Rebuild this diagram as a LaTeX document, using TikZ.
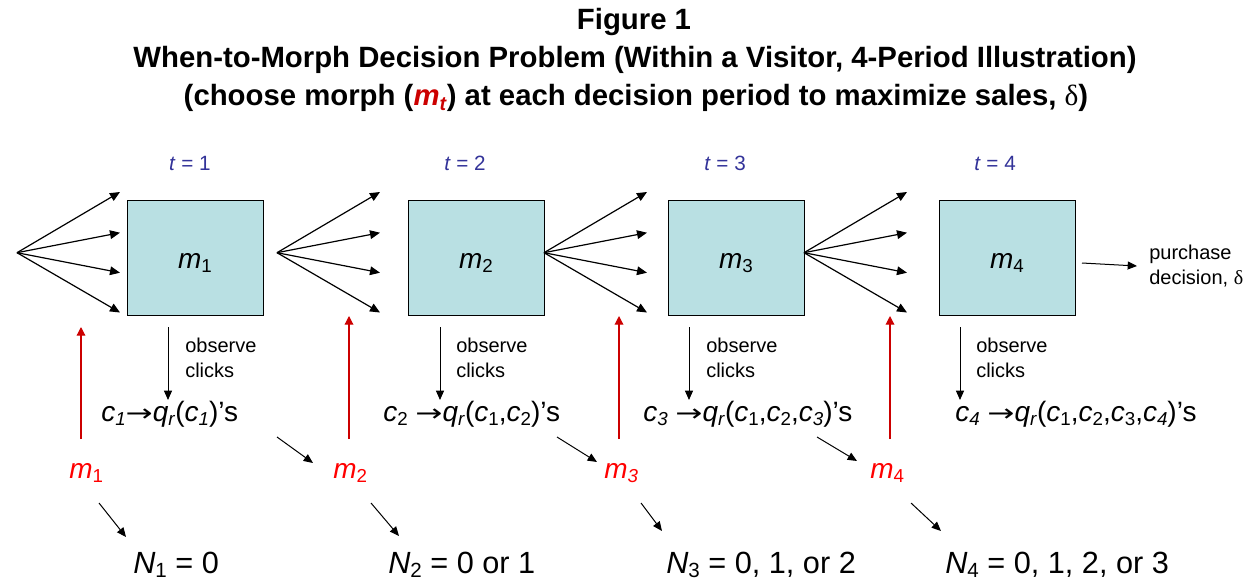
\documentclass[tikz,border=0pt]{standalone}
\usepackage{fontspec}
\setmainfont{Liberation Sans}
\newfontfamily\symf{Liberation Serif}
\newfontfamily\arrf{DejaVu Sans}
\usetikzlibrary{arrows.meta}
\definecolor{boxfill}{RGB}{185,224,227}
\definecolor{tblue}{RGB}{51,51,153}
\definecolor{mred}{RGB}{255,0,0}
\definecolor{ared}{RGB}{204,0,0}
\newcommand\lo[1]{\raisebox{-0.3ex}{\scalebox{0.67}{#1}}}
\newcommand\ra{\scalebox{1.35}[1]{\arrf\fontsize{18}{20}\selectfont →}}
\begin{document}
\begin{tikzpicture}[x=0.75pt,y=-0.75pt,
  mbox/.style={draw=black, line width=0.75pt, fill=boxfill, minimum width=102pt, minimum height=86.25pt, inner sep=0pt},
  boxlab/.style={font=\fontsize{21}{25}\selectfont, inner sep=0pt},
  titlefont/.style={font=\fontsize{22}{26}\selectfont\bfseries, inner sep=0pt},
  tlab/.style={text=tblue, font=\fontsize{15.5}{18}\selectfont, inner sep=0pt},
  small/.style={font=\fontsize{15}{19}\selectfont, align=left, inner sep=0pt},
  big/.style={font=\fontsize{21}{25}\selectfont, inner sep=0pt},
  bigN/.style={font=\fontsize{23}{27}\selectfont, inner sep=0pt},
  redm/.style={text=mred, font=\fontsize{21}{25}\selectfont, inner sep=0pt},
  fanarr/.style={-{Triangle[length=7.5pt,width=6.5pt]}, line width=0.9pt},
  arr/.style={-{Triangle[length=7pt,width=6pt]}, line width=0.75pt},
  redarr/.style={-{Triangle[length=6.5pt,width=6.5pt]}, line width=0.9pt, draw=ared}
]
\useasboundingbox (0,0) rectangle (1260,582);

% title
\node[titlefont] (title1) at (634,22) {Figure 1};
\node[titlefont] (title2) at (635,60) {When-to-Morph Decision Problem (Within a Visitor, 4-Period Illustration)};
\node[titlefont] (title3) at (636,98) {(choose morph (\textcolor{ared}{\textit{m}\lo{\textit{t}}}) at each decision period to maximize sales, {\symf\mdseries δ})};

% boxes
\foreach \i/\x in {1/195,2/476,3/736,4/1007}{
  \node[mbox] (b\i) at (\x,257.5) {};
  \node[boxlab] (bl\i) at (\x,263) {\textit{m}\lo{\i}};
}

% t labels
\node[tlab] (t1) at (190,163) {\textit{t} = 1};
\node[tlab] (t2) at (465,163) {\textit{t} = 2};
\node[tlab] (t3) at (725,163) {\textit{t} = 3};
\node[tlab] (t4) at (995,163) {\textit{t} = 4};

% fans
\coordinate (f0) at (17,252.7);
\coordinate (f1) at (277,252.7);
\coordinate (f2) at (544,252.7);
\coordinate (f3) at (804,252.7);
\foreach \f/\x in {f0/120,f1/380,f2/647,f3/907}{
  \coordinate (\f a) at (\x,192);
  \coordinate (\f b) at (\x,232.7);
  \coordinate (\f c) at (\x,272.7);
  \coordinate (\f d) at (\x,312.5);
  \draw[fanarr] (\f) -- (\f a);
  \draw[fanarr] (\f) -- (\f b);
  \draw[fanarr] (\f) -- (\f c);
  \draw[fanarr] (\f) -- (\f d);
}

% purchase decision
\node[small, anchor=west] (pd) at (1149,266) {purchase\\decision, {\symf δ}};
\coordinate (pds) at (1082,263);
\coordinate (pde) at (1137,266);
\draw[arr] (pds) -- (pde);

% observe clicks
\foreach \i/\x/\tx in {1/168/185,2/440/456,3/689/706,4/960/976}{
  \node[small, anchor=west] (obs\i) at (\tx,358) {observe\\clicks};
  \coordinate (os\i) at (\x,327);
  \coordinate (oe\i) at (\x,400);
  \draw[arr] (os\i) -- (oe\i);
}

% c lines
\node[big, anchor=base west] (c1) at (101,421) {\textit{c}\lo{\textit{1}}\ra\textit{q}\lo{\textit{r}}(\textit{c}\lo{\textit{1}})’s};
\node[big, anchor=base west] (c2) at (383,421) {\textit{c}\lo{2} \ra\textit{q}\lo{\textit{r}}(\textit{c}\lo{1},\textit{c}\lo{2})’s};
\node[big, anchor=base west] (c3) at (643,421) {\textit{c}\lo{\textit{3}} \ra\textit{q}\lo{\textit{r}}(\textit{c}\lo{1},\textit{c}\lo{2},\textit{c}\lo{\textit{3}})’s};
\node[big, anchor=base west] (c4) at (955,421) {\textit{c}\lo{\textit{4}} \ra\textit{q}\lo{\textit{r}}(\textit{c}\lo{1},\textit{c}\lo{2},\textit{c}\lo{3},\textit{c}\lo{\textit{4}})’s};

% red m labels
\node[redm, anchor=base west] (r1) at (69,478) {\textit{m}\lo{1}};
\node[redm, anchor=base west] (r2) at (333,478) {\textit{m}\lo{2}};
\node[redm, anchor=base west] (r3) at (604,478) {\textit{m}\lo{\textit{3}}};
\node[redm, anchor=base west] (r4) at (870,478) {\textit{m}\lo{4}};

% red arrows
\foreach \i/\x/\top in {1/81/327,2/349/316,3/619/316,4/890/316}{
  \coordinate (rs\i) at (\x,439);
  \coordinate (re\i) at (\x,\top);
  \draw[redarr] (rs\i) -- (re\i);
}

% N labels
\node[bigN, anchor=base west] (n1) at (133,573) {\textit{N}\lo{1} = 0};
\node[bigN, anchor=base west] (n2) at (388,573) {\textit{N}\lo{2} = 0 or 1};
\node[bigN, anchor=base west] (n3) at (666,573) {\textit{N}\lo{3} = 0, 1, or 2};
\node[bigN, anchor=base west] (n4) at (945,573) {\textit{N}\lo{4} = 0, 1, 2, or 3};

% diagonal arrows c -> m
\coordinate (d1s) at (277,437); \coordinate (d1e) at (313,463);
\coordinate (d2s) at (557,437); \coordinate (d2e) at (597,462);
\coordinate (d3s) at (817,437); \coordinate (d3e) at (857,461);
\draw[arr] (d1s) -- (d1e);
\draw[arr] (d2s) -- (d2e);
\draw[arr] (d3s) -- (d3e);

% diagonal arrows m -> N
\coordinate (e1s) at (99,503); \coordinate (e1e) at (126,537);
\coordinate (e2s) at (371,503); \coordinate (e2e) at (399,536);
\coordinate (e3s) at (641,503); \coordinate (e3e) at (662,531);
\coordinate (e4s) at (911,503); \coordinate (e4e) at (941,531);
\draw[arr] (e1s) -- (e1e);
\draw[arr] (e2s) -- (e2e);
\draw[arr] (e3s) -- (e3e);
\draw[arr] (e4s) -- (e4e);
\end{tikzpicture}
\end{document}
